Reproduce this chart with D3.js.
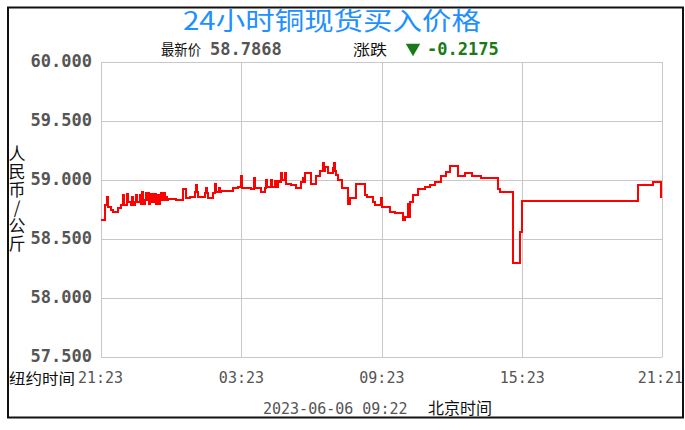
<!DOCTYPE html>
<html>
<head>
<meta charset="utf-8">
<script src="https://cdn.jsdelivr.net/npm/d3@7"></script>
<style>
  html, body { margin: 0; padding: 0; background: #fff; }
  svg { display: block; }
  .mono { font-family: "DejaVu Sans Mono", monospace; }
  .cjk { font-family: "Noto Sans CJK SC", sans-serif; }
  .vert { writing-mode: vertical-rl; text-orientation: upright; }
</style>
</head>
<body>
<svg id="chart"></svg>
<script>
/* 24h copper spot buy price — step line, New York time axis */
(function () {
  "use strict";
  var W = 685, H = 430;

  // ---- data ----
  var times = ["21:23", "21:33", "21:38", "21:41", "21:49", "21:54", "22:07", "22:14", "22:19", "22:22",
    "22:30", "22:32", "22:40", "22:42", "22:45", "22:50", "22:53", "22:55", "23:03", "23:06",
    "23:08", "23:11", "23:16", "23:18", "23:21", "23:23", "23:26", "23:29", "23:31", "23:36",
    "23:39", "23:41", "23:44", "23:49", "23:52", "23:54", "23:57", "23:59", "00:04", "00:07",
    "00:10", "00:12", "00:15", "00:35", "00:53", "01:01", "01:11", "01:24", "01:27", "01:29",
    "01:32", "01:50", "01:52", "01:55", "01:57", "02:10", "02:15", "02:18", "02:25", "02:28",
    "02:31", "03:01", "03:14", "03:22", "03:24", "03:48", "03:55", "03:58", "04:13", "04:23",
    "04:26", "04:29", "04:39", "04:41", "04:49", "04:52", "04:57", "05:02", "05:04", "05:07",
    "05:15", "05:17", "05:30", "05:43", "05:56", "06:01", "06:03", "06:06", "06:21", "06:34",
    "06:44", "06:52", "06:55", "06:57", "07:05", "07:18", "07:20", "07:23", "07:25", "07:31",
    "07:41", "07:56", "08:01", "08:17", "08:40", "08:45", "09:00", "09:05", "09:21", "09:23",
    "09:44", "09:57", "10:17", "10:22", "10:30", "10:33", "10:35", "10:43", "10:56", "11:14",
    "11:26", "11:39", "11:55", "12:07", "12:18", "12:38", "12:56", "13:14", "13:37", "14:21",
    "14:26", "14:59", "15:17", "15:22", "20:20", "20:58", "21:19", "21:21"];
  var prices = [58.66, 58.79, 58.86, 58.77, 58.75, 58.73, 58.76, 58.79, 58.87, 58.79,
    58.88, 58.81, 58.79, 58.86, 58.79, 58.81, 58.87, 58.81, 58.87, 58.80,
    58.90, 58.80, 58.83, 58.89, 58.83, 58.89, 58.80, 58.88, 58.81, 58.88,
    58.81, 58.88, 58.80, 58.87, 58.80, 58.83, 58.89, 58.83, 58.89, 58.83,
    58.86, 58.83, 58.84, 58.83, 58.92, 58.85, 58.86, 58.90, 58.96, 58.90,
    58.86, 58.89, 58.93, 58.89, 58.85, 58.89, 58.97, 58.90, 58.93, 58.90,
    58.91, 58.93, 58.94, 59.03, 58.93, 58.92, 59.02, 58.93, 58.90, 58.93,
    59.00, 58.94, 59.00, 58.94, 58.99, 58.94, 58.99, 58.98, 59.06, 59.00,
    59.06, 58.97, 58.96, 58.93, 58.98, 59.02, 58.98, 59.06, 58.97, 59.03,
    59.08, 59.14, 59.08, 59.11, 59.06, 59.10, 59.14, 59.08, 59.04, 59.00,
    58.93, 58.80, 58.85, 58.97, 58.87, 58.86, 58.81, 58.79, 58.85, 58.77,
    58.73, 58.72, 58.66, 58.69, 58.80, 58.69, 58.81, 58.87, 58.92, 58.94,
    58.96, 58.98, 59.03, 59.07, 59.12, 59.03, 59.06, 59.03, 59.02, 58.92,
    58.90, 58.30, 58.56, 58.82, 58.96, 58.98, 58.86, 58.86];
  var yTicks = [57.5, 58, 58.5, 59, 59.5, 60];
  var xTickLabels = ["21:23", "03:23", "09:23", "15:23", "21:21"];
  var title = "24小时铜现货买入价格";
  var latestLabel = "最新价", latestValue = "58.7868";
  var changeLabel = "涨跌", changeValue = "-0.2175";
  var yTitle = "人民币/公斤";
  var xTitle = "纽约时间", stampText = "2023-06-06 09:22", stampZone = "北京时间";

  // minutes elapsed since the first NY-time label
  var t0 = toMin(xTickLabels[0]);
  function toMin(s) { var p = s.split(":"); return +p[0] * 60 + +p[1]; }
  function elapsed(s) { var m = toMin(s) - t0; return m < 0 ? m + 1440 : m; }

  var pts = times.map(function (t, i) { return { m: elapsed(t), v: prices[i] }; });
  var xEnd = elapsed(xTickLabels[xTickLabels.length - 1]);

  var P = { l: 101, r: 662, t: 62, b: 357 };
  var x = d3.scaleLinear().domain([0, xEnd]).range([P.l, P.r]);
  var y = d3.scaleLinear().domain([57.5, 60]).range([P.b, P.t]);

  var svg = d3.select("#chart").attr("width", W).attr("height", H);
  svg.append("rect").attr("width", W).attr("height", H).attr("fill", "#fff");

  // outer frame
  svg.append("rect").attr("x", 8).attr("y", 7.5).attr("width", 675).attr("height", 410)
    .attr("fill", "none").attr("stroke", "#111").attr("stroke-width", 2);

  // grid
  var grid = svg.append("g").attr("stroke", "#c8c8c8").attr("stroke-width", 1).attr("shape-rendering", "crispEdges");
  grid.selectAll("line.h").data(yTicks).enter().append("line").attr("class", "h")
    .attr("x1", P.l).attr("x2", P.r).attr("y1", function (d) { return Math.round(y(d)) + 0.5; })
    .attr("y2", function (d) { return Math.round(y(d)) + 0.5; });
  grid.selectAll("line.v").data(xTickLabels).enter().append("line").attr("class", "v")
    .attr("y1", P.t).attr("y2", P.b).attr("x1", function (d) { return Math.round(x(elapsed(d))) + 0.5; })
    .attr("x2", function (d) { return Math.round(x(elapsed(d))) + 0.5; });

  // y labels
  var fmt = d3.format(".3f");
  svg.append("g").selectAll("text").data(yTicks).enter().append("text")
    .attr("class", "mono").attr("x", 92).attr("y", function (d) { return y(d) + 5; })
    .attr("text-anchor", "end").attr("font-size", 17).attr("font-weight", "bold").attr("fill", "#555")
    .text(function (d) { return fmt(d); });

  // y title, stacked vertically
  svg.append("text").attr("class", "cjk vert").attr("x", 17).attr("y", 145)
    .attr("font-size", 17).attr("letter-spacing", 1).attr("fill", "#111").text(yTitle);

  // x labels
  svg.append("g").selectAll("text").data(xTickLabels).enter().append("text")
    .attr("class", "mono").attr("font-size", 15).attr("fill", "#555")
    .attr("x", function (d, i) { return i === 0 ? 78 : i === xTickLabels.length - 1 ? 683 : x(elapsed(d)); })
    .attr("y", 383)
    .attr("text-anchor", function (d, i) { return i === 0 ? "start" : i === xTickLabels.length - 1 ? "end" : "middle"; })
    .text(function (d) { return d; });
  svg.append("text").attr("class", "cjk").attr("x", 9).attr("y", 384).attr("font-size", 15)
    .attr("textLength", 66).attr("lengthAdjust", "spacingAndGlyphs").attr("fill", "#111").text(xTitle);

  // price line
  var line = d3.line().x(function (d) { return x(d.m); }).y(function (d) { return y(d.v); }).curve(d3.curveStepAfter);
  svg.append("path").datum(pts).attr("d", line).attr("fill", "none")
    .attr("stroke", "#ff0000").attr("stroke-width", 2).attr("shape-rendering", "crispEdges");

  // title + latest quote
  svg.append("text").attr("class", "cjk").attr("x", 183).attr("y", 30).attr("font-size", 25)
    .attr("textLength", 298).attr("lengthAdjust", "spacingAndGlyphs").attr("fill", "#1e90ff").text(title);
  svg.append("text").attr("class", "cjk").attr("x", 161).attr("y", 55).attr("font-size", 15)
    .attr("textLength", 40).attr("lengthAdjust", "spacingAndGlyphs").attr("fill", "#111").text(latestLabel);
  svg.append("text").attr("class", "mono").attr("x", 210).attr("y", 55).attr("font-size", 17).attr("font-weight", "bold")
    .attr("fill", "#555").text(latestValue);
  svg.append("text").attr("class", "cjk").attr("x", 353).attr("y", 55).attr("font-size", 15)
    .attr("textLength", 34).attr("lengthAdjust", "spacingAndGlyphs").attr("fill", "#111").text(changeLabel);
  svg.append("path").attr("d", d3.symbol(d3.symbolTriangle, 90)()).attr("fill", "#1a7a1a")
    .attr("transform", "translate(413,48) rotate(180)");
  svg.append("text").attr("class", "mono").attr("x", 427).attr("y", 55).attr("font-size", 17).attr("font-weight", "bold")
    .attr("fill", "#1a7a1a").text(changeValue);

  // bottom stamp
  svg.append("text").attr("class", "mono").attr("x", 263).attr("y", 414).attr("font-size", 15).attr("fill", "#555").text(stampText);
  svg.append("text").attr("class", "cjk").attr("x", 428).attr("y", 414).attr("font-size", 16).attr("fill", "#111").text(stampZone);
})();
</script>
</body>
</html>
